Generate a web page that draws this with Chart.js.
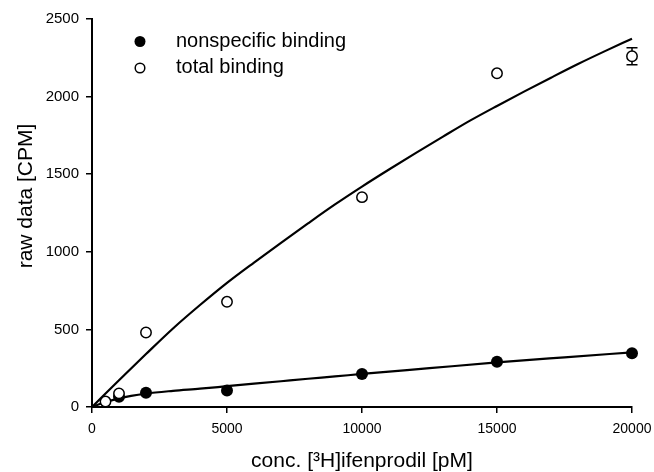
<!DOCTYPE html>
<html><head><meta charset="utf-8">
<script src="https://cdn.jsdelivr.net/npm/chart.js@4.4.1/dist/chart.umd.min.js"></script>
<style>html,body{margin:0;padding:0;background:#fff}#wrap{width:654px;height:472px;position:relative}</style>
</head><body><div id="wrap"><canvas id="c"></canvas></div>
<script>
// measured points
const totalConc = [500, 1000, 2000, 5000, 10000, 15000, 20000];
const totalBinding = [35, 88, 480, 678, 1352, 2150, 2260];
const totalError = [0, 0, 0, 0, 0, 0, 54];
const nsConc = [1000, 2000, 5000, 10000, 15000, 20000];
const nsBinding = [66, 92, 107, 213, 292, 346];
// fitted curves
const totalFitConc = [0,1000,2000,3000,4000,5000,6000,7000,8000,9000,10000,11000,12000,13000,14000,15000,16000,17000,18000,19000,20000];
const totalFitValue = [0,172,341,506,657,800,931,1058,1183,1305,1420,1530,1637,1742,1845,1940,2032,2122,2210,2293,2373];
const nsFitConc = [0,500,1000,2000,3000,4000,5000,6000,7000,8000,9000,10000,12500,15000,17500,20000];
const nsFitValue = [0,32,56,86,104,118,134,150,166,182,197,213,250,287,320,352];
// labels and ticks
const seriesLabels = ['nonspecific binding', 'total binding'];
const xTitle = 'conc. [\u00B3H]ifenprodil [pM]';
const yTitle = 'raw data [CPM]';
const xTicks = [0, 5000, 10000, 15000, 20000];
const yTicks = [0, 500, 1000, 1500, 2000, 2500];

const FONT = '"Liberation Sans", Arial, Helvetica, sans-serif';
Chart.defaults.font.family = FONT;
Chart.defaults.color = '#000';

const xy = (xs, ys) => xs.map((x, i) => ({x: x, y: ys[i]}));

const errorBars = {
  id: 'errorBars',
  beforeDatasetsDraw(chart) {
    const ctx = chart.ctx, xs = chart.scales.x, ys = chart.scales.y;
    ctx.save();
    ctx.strokeStyle = '#000';
    ctx.lineWidth = 1.5;
    totalConc.forEach((c, i) => {
      const e = totalError[i];
      if (!e) return;
      const px = xs.getPixelForValue(c);
      const top = ys.getPixelForValue(totalBinding[i] + e);
      const bot = ys.getPixelForValue(totalBinding[i] - e);
      ctx.beginPath();
      ctx.moveTo(px, top); ctx.lineTo(px, bot);
      ctx.moveTo(px - 5.5, top); ctx.lineTo(px + 5.5, top);
      ctx.moveTo(px - 5.5, bot); ctx.lineTo(px + 5.5, bot);
      ctx.stroke();
    });
    ctx.restore();
  }
};

const extras = {
  id: 'extras',
  afterDraw(chart) {
    const ctx = chart.ctx;
    ctx.save();
    // legend
    ctx.fillStyle = '#000';
    ctx.beginPath(); ctx.arc(140, 41.5, 5.5, 0, Math.PI * 2); ctx.fill();
    ctx.lineWidth = 1.5; ctx.strokeStyle = '#000'; ctx.fillStyle = '#fff';
    ctx.beginPath(); ctx.arc(140, 68, 4.8, 0, Math.PI * 2); ctx.fill(); ctx.stroke();
    ctx.fillStyle = '#000';
    ctx.font = '20px ' + FONT;
    ctx.textAlign = 'left'; ctx.textBaseline = 'middle';
    ctx.fillText(seriesLabels[0], 176, 41.5);
    ctx.fillText(seriesLabels[1], 176, 67.5);
    // y title
    ctx.font = '21px ' + FONT;
    ctx.translate(26, 196);
    ctx.rotate(-Math.PI / 2);
    ctx.textAlign = 'center';
    ctx.fillText(yTitle, 0, 0);
    ctx.restore();
  }
};

new Chart(document.getElementById('c'), {
  type: 'scatter',
  data: {
    datasets: [
      {label: seriesLabels[1], data: xy(totalConc, totalBinding), showLine: false,
       pointRadius: 5.2, pointBorderWidth: 1.5, pointBackgroundColor: '#fff', pointBorderColor: '#000', clip: false},
      {label: seriesLabels[0], data: xy(nsConc, nsBinding), showLine: false,
       pointRadius: 6, pointBorderWidth: 0, pointBackgroundColor: '#000', pointBorderColor: '#000', clip: false},
      {label: 'total fit', data: xy(totalFitConc, totalFitValue), showLine: true, pointRadius: 0,
       borderColor: '#000', borderWidth: 2.2, cubicInterpolationMode: 'monotone', clip: false},
      {label: 'ns fit', data: xy(nsFitConc, nsFitValue), showLine: true, pointRadius: 0,
       borderColor: '#000', borderWidth: 2.2, cubicInterpolationMode: 'monotone', clip: false}
    ]
  },
  options: {
    responsive: true, maintainAspectRatio: false, animation: false, devicePixelRatio: 1,
    layout: {padding: {left: 13, top: 19, right: 22, bottom: 0}},
    plugins: {legend: {display: false}, tooltip: {enabled: false}},
    scales: {
      x: {
        type: 'linear', min: 0, max: 20000,
        afterBuildTicks: s => { s.ticks = xTicks.map(v => ({value: v})); },
        afterFit: s => { s.height = 65; s.paddingLeft = 0; s.paddingRight = 0; },
        ticks: {font: {size: 14}, padding: 8, maxRotation: 0, callback: v => String(v)},
        grid: {display: true, drawOnChartArea: false, drawTicks: true, tickLength: 6, color: '#000', lineWidth: 1.5},
        border: {display: true, color: '#000', width: 2},
        title: {display: true, text: xTitle, font: {size: 21}, padding: {top: 0, bottom: -2}}
      },
      y: {
        type: 'linear', min: 0, max: 2500,
        afterBuildTicks: s => { s.ticks = yTicks.map(v => ({value: v})); },
        afterFit: s => { s.width = 79; s.paddingTop = 0; s.paddingBottom = 0; },
        ticks: {font: {size: 15}, padding: 7, callback: v => String(v)},
        grid: {display: true, drawOnChartArea: false, drawTicks: true, tickLength: 6, color: '#000', lineWidth: 1.5},
        border: {display: true, color: '#000', width: 2},
        title: {display: false}
      }
    }
  },
  plugins: [errorBars, extras]
});
</script>
</body></html>
